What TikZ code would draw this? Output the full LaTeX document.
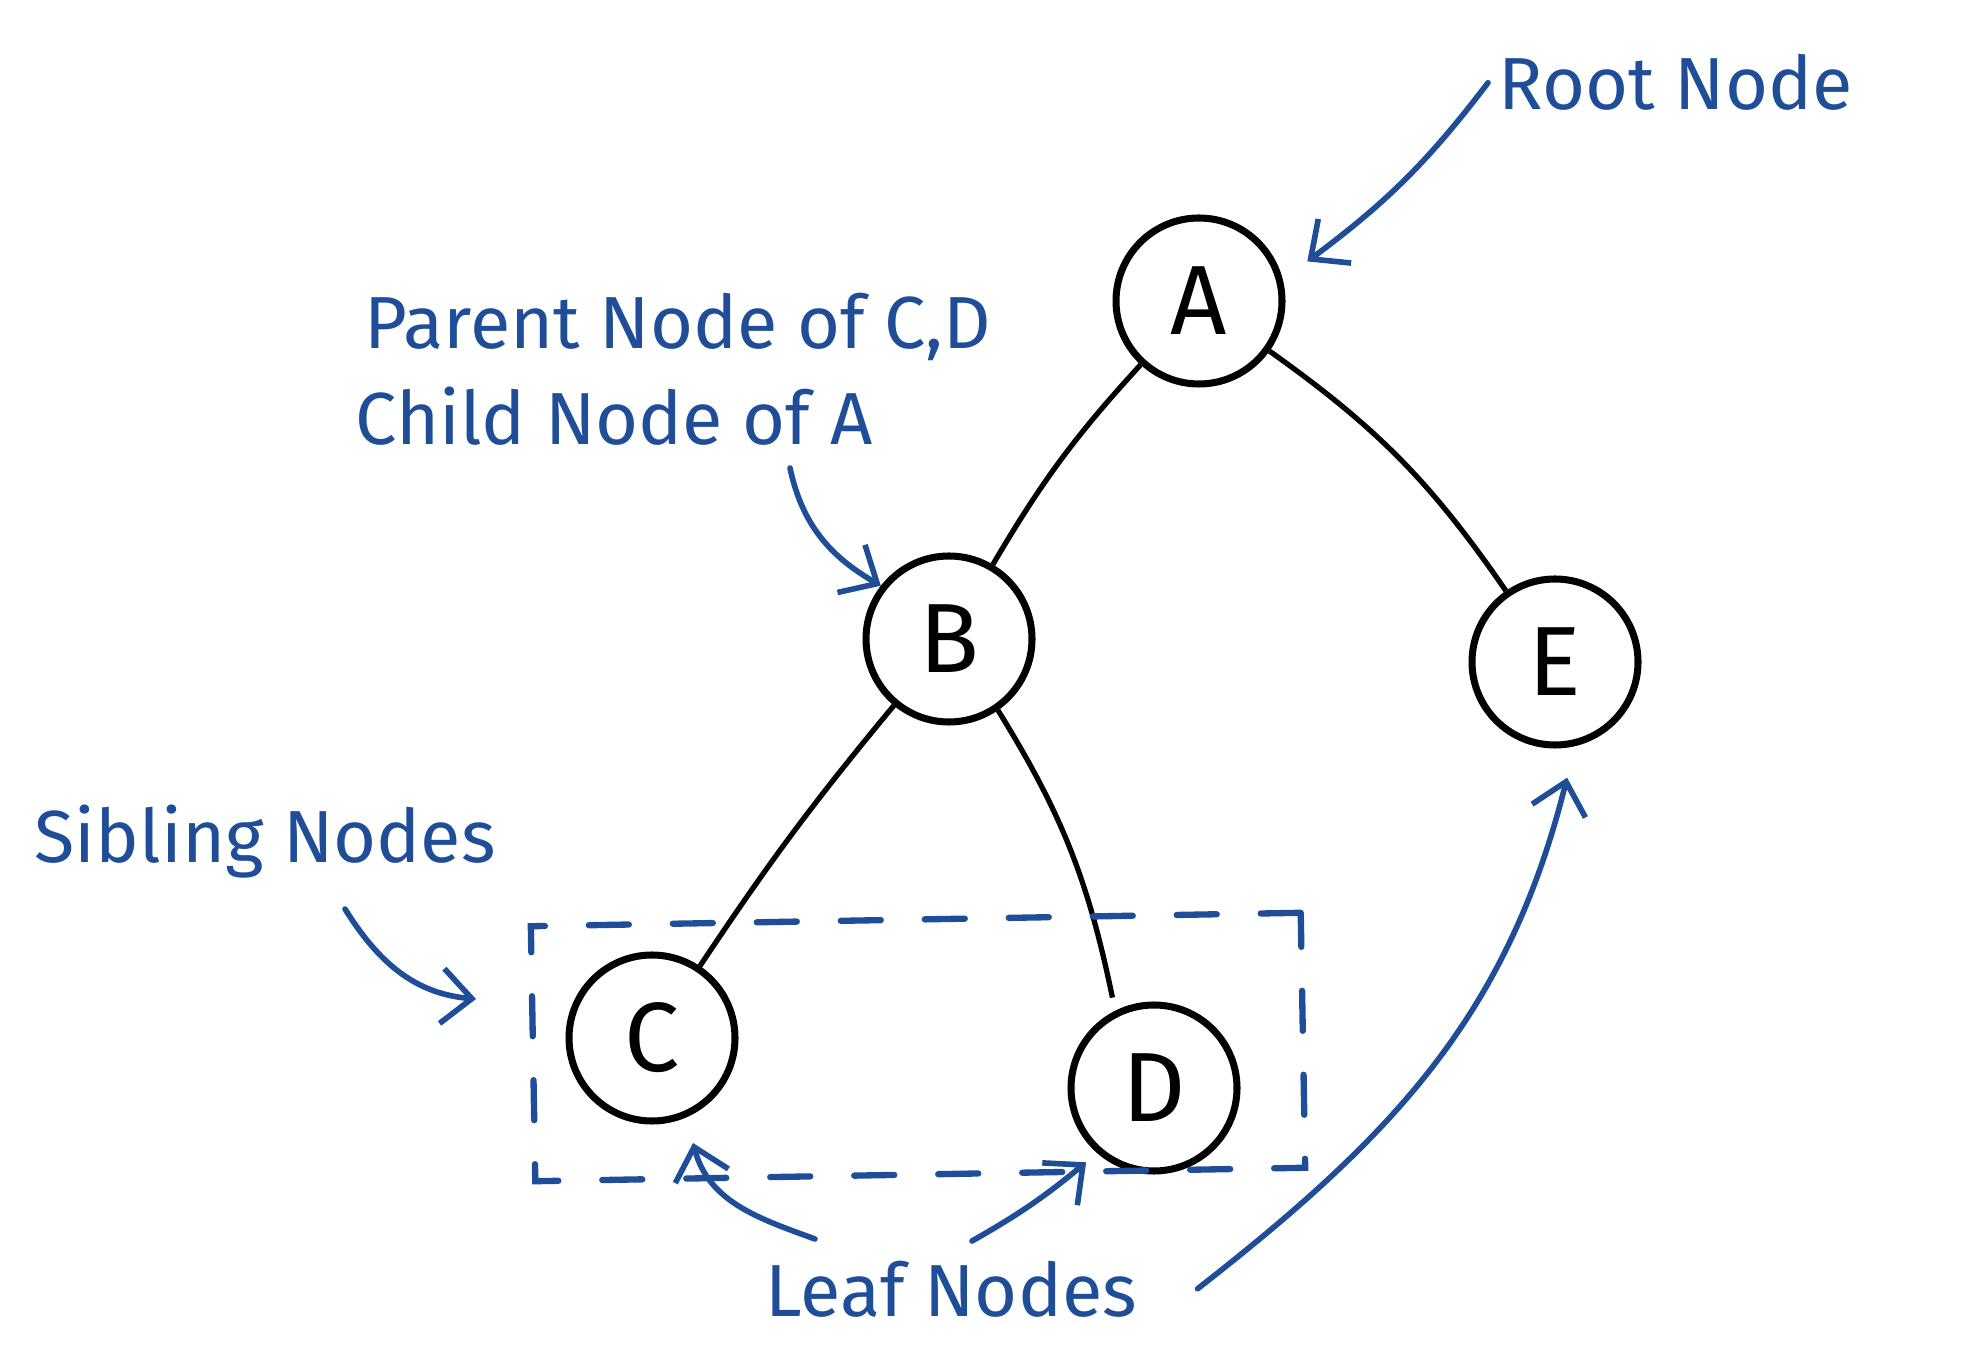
\documentclass[tikz,border=0pt]{standalone}
\usepackage{fontspec}
\setmainfont{Fira Sans}
\usepackage{xcolor}
\usepackage{tikz}
\usetikzlibrary{arrows.meta,positioning}
\definecolor{inkblue}{RGB}{31,77,152}

\begin{document}
\begin{tikzpicture}[>={Straight Barb[length=3mm,width=5.5mm]},
  tnode/.style={draw, circle, line width=2pt, minimum size=1.66cm, inner sep=0pt, font=\fontsize{28}{30}\selectfont},
  link/.style={line width=1.5pt},
  note/.style={text=inkblue, anchor=base west, inner sep=0pt, font=\fontsize{21}{24}\selectfont},
  pointer/.style={->, draw=inkblue, line width=1.6pt, line cap=round},
  sibbox/.style={draw=inkblue, line width=1.8pt, line cap=round, dash pattern=on 4mm off 4.4mm, minimum width=7.7cm, minimum height=2.55cm, rotate=1}]
\useasboundingbox (0,0) rectangle (19.66,13.65);
% tree
\node[tnode] (a) at (11.99,10.64) {A};
\node[tnode] (b) at (9.49,7.26) {B};
\node[tnode] (e) at (15.55,7.03) {E};
\node[tnode] (c) at (6.52,3.27) {C};
\node[tnode] (d) at (11.54,2.77) {D};
\draw[link] (a) to[bend right=6] (b);
\draw[link] (a) to[bend left=10] (e);
\draw[link] (b) to[bend right=3] (c);
\draw[link] (b) to[bend left=10] ([shift={(-0.5mm,1.2mm)}]d.115);
\node[sibbox] (sib) at (9.18,3.18) {};
% labels
\node[note] (root) at (14.98,12.55) {Root Node};
\node[note] (parent) at (3.64,10.16) {Parent Node of C,D};
\node[note] (child) at (3.55,9.20) {Child Node of A};
\node[note] (sibling) at (0.34,5.02) {Sibling Nodes};
\node[note] (leaf) at (7.65,0.49) {Leaf Nodes};
% pointers
\coordinate (ptail) at (7.90,8.97);
\coordinate (stail) at (3.45,4.56);
\coordinate (stip) at (4.76,3.66);
\coordinate (lctail) at (8.15,1.26);
\coordinate (ctip) at (6.93,2.22);
\coordinate (ldtail) at (9.72,1.24);
\draw[pointer] ([xshift=-1mm]root.west) to[bend left=8] ([xshift=2.7mm,yshift=1mm]a.20);
\draw[pointer] (ptail) to[out=-78, in=150] (b.142);
\draw[pointer] (stail) to[out=-58, in=175] (stip);
\draw[pointer] (lctail) to[out=160, in=-75] (ctip);
\draw[pointer] (ldtail) to[bend right=5] ([shift={(-1mm,-1mm)}]d.228);
\draw[pointer] ([xshift=6mm]leaf.east) to[out=38, in=-104] ([yshift=-3mm]e.-82);
\end{tikzpicture}
\end{document}
